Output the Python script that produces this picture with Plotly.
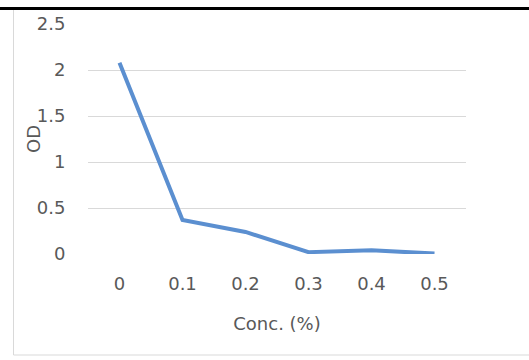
import plotly.graph_objects as go

# Optical density measured at each concentration
conc_labels = ["0", "0.1", "0.2", "0.3", "0.4", "0.5"]
od_values = [2.08, 0.37, 0.24, 0.02, 0.04, 0.005]

y_ticks = [0, 0.5, 1, 1.5, 2, 2.5]

W, H = 529, 360
TEXT = "#595959"
GRID = "#d9d9d9"
FONT = "DejaVu Sans, sans-serif"
FS = 18

fig = go.Figure(
    go.Scatter(
        x=conc_labels,
        y=od_values,
        mode="lines",
        line=dict(color="#5b8fd0", width=4),
        hoverinfo="x+y",
    )
)

fig.update_layout(
    width=W,
    height=H,
    margin=dict(l=0, r=0, t=0, b=0),
    paper_bgcolor="white",
    plot_bgcolor="white",
    showlegend=False,
    font=dict(family=FONT, size=FS, color=TEXT),
    xaxis=dict(
        type="category",
        domain=[88 / W, 466 / W],
        range=[-0.5, 5.5],
        showgrid=False,
        zeroline=False,
        showline=False,
        ticks="outside",
        ticklen=13,
        tickcolor="rgba(0,0,0,0)",
        tickfont=dict(size=FS, color=TEXT),
        title=dict(text="Conc. (%)", font=dict(size=FS, color=TEXT), standoff=24),
        automargin=False,
    ),
    yaxis=dict(
        domain=[106 / H, 336 / H],
        range=[0, 2.5],
        tickvals=y_ticks,
        showgrid=True,
        gridcolor=GRID,
        gridwidth=1,
        zeroline=False,
        showline=False,
        ticks="outside",
        ticklen=18,
        tickcolor="rgba(0,0,0,0)",
        tickfont=dict(size=FS, color=TEXT),
        automargin=False,
    ),
    annotations=[
        # y-axis title, set close in to the tick labels
        dict(text="OD", xref="paper", yref="paper", x=33 / W, y=(H - 139) / H,
             xanchor="center", yanchor="middle", textangle=-90, showarrow=False,
             font=dict(size=FS, color=TEXT)),
    ],
    shapes=[
        # chart frame (left and bottom edges)
        dict(type="line", xref="paper", yref="paper", x0=13.5 / W, x1=13.5 / W,
             y0=(H - 10) / H, y1=(H - 355) / H, line=dict(color=GRID, width=1)),
        dict(type="line", xref="paper", yref="paper", x0=13.5 / W, x1=1,
             y0=(H - 355) / H, y1=(H - 355) / H, line=dict(color=GRID, width=1)),
        # heavy rule across the top
        dict(type="line", xref="paper", yref="paper", x0=0, x1=1,
             y0=(H - 8.5) / H, y1=(H - 8.5) / H, line=dict(color="black", width=3)),
    ],
)

fig.write_html("out.html")
